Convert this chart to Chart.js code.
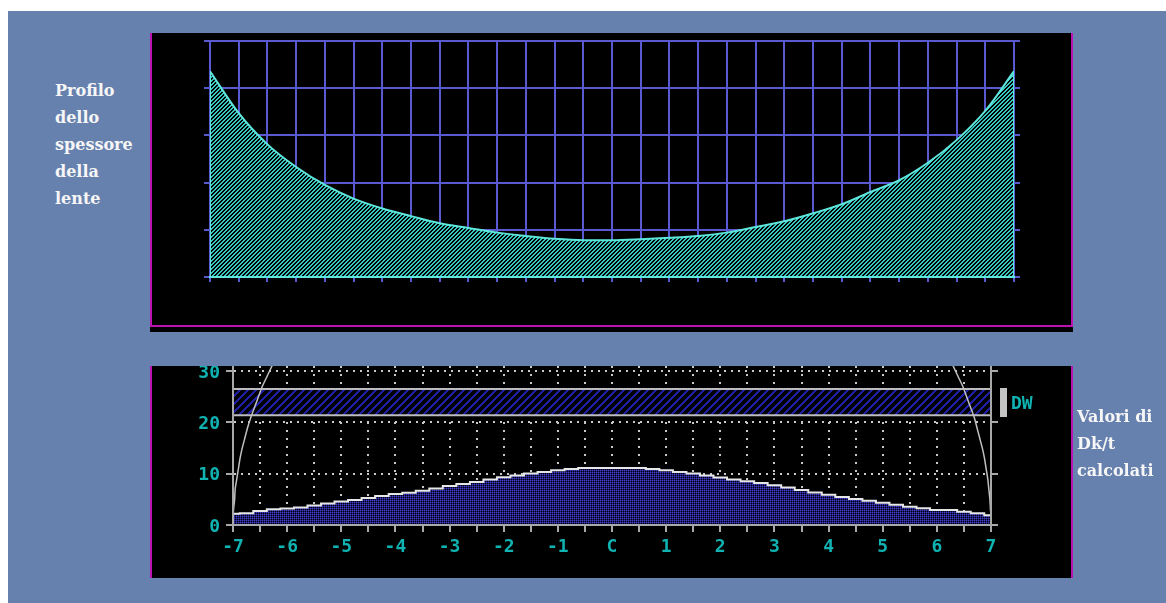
<!DOCTYPE html>
<html>
<head>
<meta charset="utf-8">
<script src="https://cdn.jsdelivr.net/npm/chart.js@4/dist/chart.umd.min.js"></script>
<style>
  html, body { margin: 0; padding: 0; width: 1166px; height: 603px; overflow: hidden; background: #ffffff; }
  #bg { position: absolute; left: 8px; top: 11px; width: 1158px; height: 592px; background: #6781ae; }
  .panel { position: absolute; background: #000000; }
  #p1 { left: 150px; top: 33px; width: 923px; height: 299px; }
  #p2 { left: 150px; top: 366px; width: 923px; height: 212px; }
  .mag { position: absolute; background: #bc12b4; }
  .side { position: absolute; font-family: "DejaVu Serif", serif; font-weight: bold; font-size: 16px;
          line-height: 27px; color: #f6f6f6; white-space: nowrap; }
  canvas { position: absolute; left: 0; top: 0; }
  #dwMark { position: absolute; left: 1000px; top: 388px; width: 7px; height: 29px; background: #c4c4c4; }
  #dwText { position: absolute; left: 1011px; top: 392px; font-family: "DejaVu Sans Mono", monospace;
            font-weight: bold; font-size: 18px; line-height: 22px; color: #10b2b2; }
</style>
</head>
<body>
<div id="bg"></div>

<div class="panel" id="p1"><canvas id="thick" width="923" height="299"></canvas></div>
<div class="mag" style="left:150px;top:33px;width:2px;height:294px"></div>
<div class="mag" style="left:1071px;top:33px;width:2px;height:294px"></div>
<div class="mag" style="left:150px;top:325px;width:923px;height:2px"></div>

<div class="panel" id="p2"><canvas id="dk" width="923" height="212"></canvas></div>
<div class="mag" style="left:150px;top:366px;width:2px;height:212px"></div>
<div class="mag" style="left:1071px;top:366px;width:2px;height:212px"></div>

<div id="dwMark"></div>
<div id="dwText">DW</div>

<div class="side" style="left:55px;top:77px">Profilo<br>dello<br>spessore<br>della<br>lente</div>
<div class="side" style="left:1077px;top:403px">Valori di<br>Dk/t<br>calcolati</div>

<script>
// ---- Lens thickness profile (upper plot) ----
const profileX = [-7, -6.5, -6, -5.5, -5, -4.5, -4, -3.5, -3, -2.5, -2, -1.5, -1, -0.5,
                  0, 0.5, 1, 1.5, 2, 2.5, 3, 3.5, 4, 4.5, 5, 5.5, 6, 6.5, 7];
const profileThickness = [4.36, 3.47, 2.81, 2.33, 1.95, 1.66, 1.45, 1.29, 1.14, 1.04, 0.94, 0.87, 0.81, 0.78,
                          0.78, 0.80, 0.83, 0.87, 0.94, 1.06, 1.18, 1.35, 1.54, 1.80, 2.05, 2.42, 2.90, 3.52, 4.36];

// ---- Computed Dk/t values (lower plot) ----
const dkX = [-7, -6.75, -6.5, -6.25, -6, -5.75, -5.5, -5.25, -5, -4.75, -4.5, -4.25, -4, -3.75,
             -3.5, -3.25, -3, -2.75, -2.5, -2.25, -2, -1.75, -1.5, -1.25, -1, -0.75, -0.5, -0.25,
             0, 0.25, 0.5, 0.75, 1, 1.25, 1.5, 1.75, 2, 2.25, 2.5, 2.75, 3, 3.25, 3.5, 3.75,
             4, 4.25, 4.5, 4.75, 5, 5.25, 5.5, 5.75, 6, 6.25, 6.5, 6.75, 7];
const dkValues = [2.2, 2.28, 2.73, 3.06, 3.2, 3.39, 3.78, 4.17, 4.56, 4.88, 5.27, 5.66, 6.05, 6.31,
                  6.7, 7.1, 7.6, 8.0, 8.4, 8.85, 9.3, 9.63, 10.02, 10.35, 10.68, 10.9, 11.13, 11.13,
                  11.13, 11.13, 11.13, 10.9, 10.68, 10.35, 10.02, 9.63, 9.24, 8.85, 8.53, 8.2, 7.75, 7.3, 6.8, 6.35,
                  5.9, 5.45, 5.08, 4.75, 4.36, 3.97, 3.58, 3.26, 2.93, 2.93, 2.6, 2.28, 1.9];

// DW band limits
const dwUpper = 26.5;
const dwLower = 21.4;

// Lens edge outline (left and right arcs)
const arcY      = [33, 31, 29, 27, 25, 23, 21, 19, 17, 15, 13, 11, 9, 7, 5, 3, 2];
const arcLeftX  = [-6.18, -6.28, -6.37, -6.46, -6.53, -6.60, -6.67, -6.73, -6.78, -6.83, -6.87, -6.90, -6.93, -6.96, -6.97, -6.99, -7.0];
const arcRightX = [6.20, 6.30, 6.39, 6.48, 6.55, 6.62, 6.69, 6.74, 6.79, 6.84, 6.88, 6.91, 6.94, 6.96, 6.98, 6.99, 7.0];

// Axis ticks
const dkYTicks = [0, 10, 20, 30];
const dkXLabels = ['-7', '-6', '-5', '-4', '-3', '-2', '-1', 'C', '1', '2', '3', '4', '5', '6', '7'];

const pts = (xs, ys) => xs.map((x, i) => ({ x: x, y: ys[i] }));

// Pixel-level fill patterns
function makePattern(ctx, w, h, paint) {
  const c = document.createElement('canvas');
  c.width = w; c.height = h;
  const g = c.getContext('2d');
  const img = g.createImageData(w, h);
  for (let y = 0; y < h; y++) {
    for (let x = 0; x < w; x++) {
      const col = paint(x, y);
      const k = (y * w + x) * 4;
      img.data[k] = col[0]; img.data[k + 1] = col[1]; img.data[k + 2] = col[2]; img.data[k + 3] = 255;
    }
  }
  g.putImageData(img, 0, 0);
  return ctx.createPattern(c, 'repeat');
}

Chart.defaults.font.family = '"DejaVu Sans Mono", monospace';
Chart.defaults.animation = false;

// ---------- upper chart ----------
const ctx1 = document.getElementById('thick').getContext('2d');
const cyanHatch = makePattern(ctx1, 4, 4, (x, y) => ((x + y) % 4 < 2 ? [56, 200, 192] : [0, 0, 0]));
const gridPurple = '#5a5ad0';
const cyanLine = '#5ee6dc';

new Chart(ctx1, {
  type: 'line',
  data: {
    datasets: [
      {
        data: pts(profileX, profileThickness),
        borderColor: cyanLine, borderWidth: 2,
        backgroundColor: cyanHatch, fill: 'origin',
        pointRadius: 0, cubicInterpolationMode: 'monotone', order: 1
      },
      {
        data: [{ x: profileX[0], y: 0 }, { x: profileX[0], y: profileThickness[0] }],
        borderColor: cyanLine, borderWidth: 2, pointRadius: 0, fill: false, order: 0
      },
      {
        data: [{ x: profileX[profileX.length - 1], y: 0 }, { x: profileX[profileX.length - 1], y: profileThickness[profileThickness.length - 1] }],
        borderColor: cyanLine, borderWidth: 2, pointRadius: 0, fill: false, order: 0
      }
    ]
  },
  options: {
    responsive: false,
    layout: { padding: { top: 8, left: 0, right: 0, bottom: 0 } },
    plugins: { legend: { display: false }, tooltip: { enabled: false } },
    scales: {
      x: {
        type: 'linear', min: -7, max: 7,
        ticks: { display: false, stepSize: 0.5 },
        grid: { color: gridPurple, lineWidth: 2, tickLength: 5 },
        border: { color: cyanLine, width: 2, z: 1 },
        afterFit: (s) => { s.height = 55; }
      },
      y: {
        min: 0, max: 5,
        ticks: { display: false, stepSize: 1 },
        grid: { color: gridPurple, lineWidth: 2, tickLength: 6 },
        border: { color: gridPurple, width: 2 },
        afterFit: (s) => { s.width = 60; s.paddingTop = 0; s.paddingBottom = 0; }
      },
      y2: {
        position: 'right', min: 0, max: 5,
        ticks: { display: false, stepSize: 1 },
        grid: { color: gridPurple, lineWidth: 2, tickLength: 6, drawOnChartArea: false },
        border: { display: false },
        afterFit: (s) => { s.width = 59; s.paddingTop = 0; s.paddingBottom = 0; }
      }
    }
  }
});

// ---------- lower chart ----------
const ctx2 = document.getElementById('dk').getContext('2d');
const navyHatch = makePattern(ctx2, 8, 8, (x, y) => ((x + y) % 8 < 3 ? [30, 30, 160] : [0, 0, 0]));
const blueDots = makePattern(ctx2, 2, 2, (x, y) => {
  if (x === 0 && y === 0) return [66, 66, 190];
  if (x === 1 && y === 1) return [0, 0, 0];
  return [26, 26, 122];
});
const axisGrey = '#a8a8a8';
const dotGrey = '#c8c8c8';
const tickCyan = '#10b2b2';
const tickFont = { family: '"DejaVu Sans Mono", monospace', size: 18, weight: 'bold' };

new Chart(ctx2, {
  type: 'line',
  data: {
    datasets: [
      {
        data: pts(arcLeftX, arcY),
        borderColor: '#c0c0c0', borderWidth: 1.5, pointRadius: 0, tension: 0.2, fill: false, order: 0
      },
      {
        data: pts(arcRightX, arcY),
        borderColor: '#c0c0c0', borderWidth: 1.5, pointRadius: 0, tension: 0.2, fill: false, order: 0
      },
      {
        data: pts(dkX, dkValues),
        borderColor: '#e6e6e6', borderWidth: 2, stepped: 'middle',
        backgroundColor: blueDots, fill: 'origin', pointRadius: 0, order: 1
      },
      {
        data: [{ x: -7, y: dwUpper }, { x: 7, y: dwUpper }],
        borderColor: '#bcbcbc', borderWidth: 2, pointRadius: 0, fill: false, order: 2
      },
      {
        data: [{ x: -7, y: dwLower }, { x: 7, y: dwLower }],
        borderColor: '#bcbcbc', borderWidth: 2, pointRadius: 0,
        backgroundColor: navyHatch, fill: '-1', order: 2
      }
    ]
  },
  options: {
    responsive: false,
    layout: { padding: 0 },
    plugins: { legend: { display: false }, tooltip: { enabled: false } },
    scales: {
      x: {
        type: 'linear', min: -7, max: 7,
        ticks: {
          stepSize: 0.5, autoSkip: false, maxRotation: 0, padding: 5,
          color: tickCyan, font: tickFont,
          callback: (v) => (Number.isInteger(v) ? dkXLabels[v + 7] : '')
        },
        grid: { color: dotGrey, lineWidth: 2, tickLength: 7, tickColor: axisGrey, borderDash: [2, 6] },
        border: { color: axisGrey, width: 2, dash: [2, 6], z: 1 },
        afterFit: (s) => { s.height = 53; s.paddingLeft = 0; s.paddingRight = 0; }
      },
      y: {
        min: 0, max: 31,
        afterBuildTicks: (s) => { s.ticks = dkYTicks.map((v) => ({ value: v })); },
        ticks: { color: tickCyan, font: tickFont, padding: 6, labelOffset: 2 },
        grid: { color: dotGrey, lineWidth: 2, tickLength: 7, tickColor: axisGrey, borderDash: [2, 5] },
        border: { color: axisGrey, width: 2, dash: [2, 5], z: 1 },
        afterFit: (s) => { s.width = 83; s.paddingTop = 0; s.paddingBottom = 0; }
      },
      y2: {
        position: 'right', min: 0, max: 31,
        afterBuildTicks: (s) => { s.ticks = dkYTicks.map((v) => ({ value: v })); },
        ticks: { display: false },
        grid: { drawOnChartArea: false, tickLength: 7, tickColor: axisGrey, lineWidth: 2 },
        border: { color: axisGrey, width: 2, z: 1 },
        afterFit: (s) => { s.width = 82; s.paddingTop = 0; s.paddingBottom = 0; }
      }
    }
  }
});
</script>
</body>
</html>
